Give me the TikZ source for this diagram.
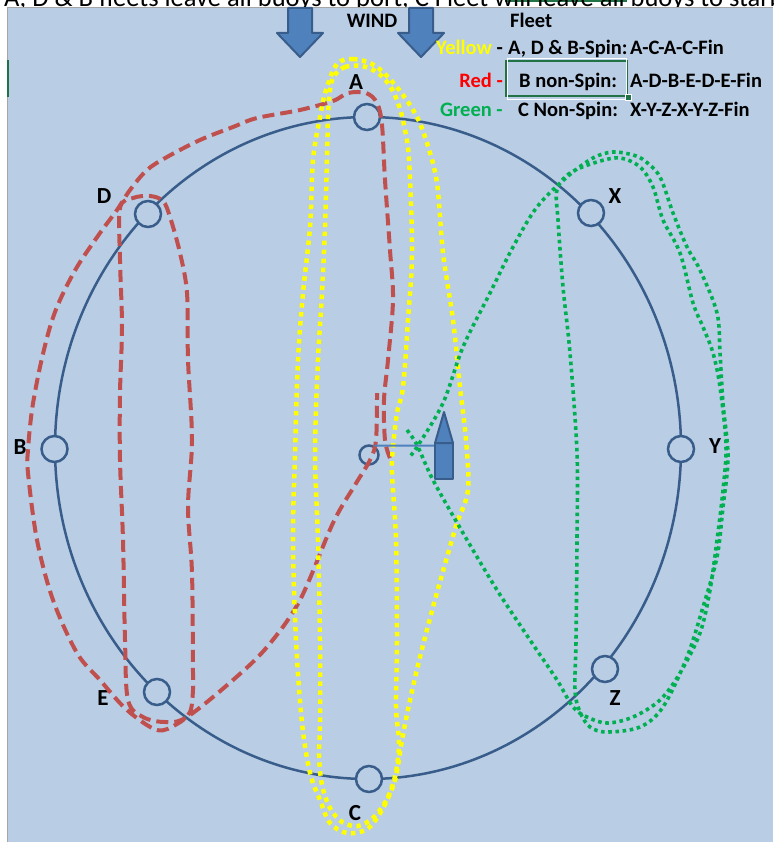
\documentclass[tikz,border=0pt]{standalone}
\usepackage{fontspec}
\setmainfont{Carlito}
\definecolor{sheetblue}{HTML}{B9CDE5}
\definecolor{lineblue}{HTML}{385D8A}
\definecolor{fillblue}{HTML}{4F81BD}
\definecolor{routered}{HTML}{C0504D}
\definecolor{routeyellow}{HTML}{FFFF00}
\definecolor{routegreen}{HTML}{00B050}
\definecolor{selgreen}{HTML}{217346}

\begin{document}
\begin{tikzpicture}[x=1pt,y=-1pt,
  buoy/.style={circle,draw=lineblue,line width=2.5pt,fill=sheetblue,minimum size=26pt,inner sep=0pt},
  buoylabel/.style={font=\fontsize{23}{23}\selectfont\bfseries,inner sep=0pt},
  legendtext/.style={font=\fontsize{20.5}{21}\selectfont\bfseries,inner sep=0pt,anchor=base west},
  redroute/.style={routered,line width=4pt,dash pattern=on 12pt off 6pt},
  yellowroute/.style={routeyellow,line width=4.5pt,dash pattern=on 4.5pt off 4.5pt},
  greenroute/.style={routegreen,line width=3.6pt,dash pattern=on 3.6pt off 3.6pt},
  windarrow/.style={fill=fillblue,draw=lineblue,line width=2pt,line join=round}]
\useasboundingbox (0,0) rectangle (773,842);
\clip (0,0) rectangle (773,842);

% ---------------- sheet ----------------
\fill[white] (0,0) rectangle (773,842);
\draw[selgreen,line width=1.5pt] (505,0.8) -- (627,0.8);
\node[anchor=base west,inner sep=0pt,font=\fontsize{26.5}{26.5}\selectfont] (note) at (4,6.5)
  {A, D \& B fleets leave all buoys to port, C Fleet will leave all buoys to starboard};
\fill[sheetblue] (7,8) rectangle (773,842);
\draw[gray!70,line width=1pt] (7,842) -- (7,8) -- (773,8);
\draw[selgreen,line width=2pt] (7.5,60) -- (7.5,97);

% ---------------- wind arrows ----------------
\foreach \cx in {300,421}
  \filldraw[windarrow] (\cx-12,8) -- (\cx+12,8) -- (\cx+12,33) -- (\cx+23,33) -- (\cx,57)
    -- (\cx-23,33) -- (\cx-12,33) -- cycle;
\node[legendtext,anchor=base] (wind) at (372,28) {WIND};

% ---------------- legend ----------------
\node[legendtext] (fleet) at (510,28) {Fleet};
\node[legendtext,anchor=base east] (yellowkey) at (503,55) {\textcolor{routeyellow}{Yellow} -};
\node[legendtext] (yellowfleet) at (508,55) {A, D \& B-Spin:};
\node[legendtext] (yellowcourse) at (630,55) {A-C-A-C-Fin};
\node[draw=selgreen,line width=2pt,minimum width=121pt,minimum height=35pt,inner sep=0pt] (cell) at (566.5,78.5) {};
\draw[white,line width=0.7pt] ([shift={(2,-2)}]cell.north west) rectangle ([shift={(-2,2)}]cell.south east);
\node[fill=selgreen,draw=white,line width=0.6pt,minimum size=6pt,inner sep=0pt] (handle) at (cell.south east) {};
\node[legendtext,anchor=base east,text=red] (redkey) at (503,88) {Red -};
\node[legendtext] (redfleet) at (519,88) {B non-Spin:};
\node[legendtext] (redcourse) at (630,88) {A-D-B-E-D-E-Fin};
\node[legendtext,anchor=base east,text=routegreen] (greenkey) at (503,117) {Green -};
\node[legendtext] (greenfleet) at (518,117) {C Non-Spin:};
\node[legendtext] (greencourse) at (630,117) {X-Y-Z-X-Y-Z-Fin};

% ---------------- course circle and buoys ----------------
\draw[lineblue,line width=2.5pt] (368,448) ellipse [x radius=313, y radius=331];
\node[buoy] (A) at (367,117) {};
\node[buoy] (B) at (54.5,449) {};
\node[buoy] (C) at (369,779) {};
\node[buoy] (D) at (148,214) {};
\node[buoy] (E) at (157,692) {};
\node[buoy] (X) at (591,213) {};
\node[buoy] (Y) at (681,449) {};
\node[buoy] (Z) at (605,669) {};
\node[buoy,minimum size=19pt] (mid) at (369,455) {};

\node[buoylabel] (lblA) at (356,82) {A};
\node[buoylabel] (lblB) at (20,447) {B};
\node[buoylabel] (lblC) at (355,813) {C};
\node[buoylabel] (lblD) at (104,196) {D};
\node[buoylabel] (lblE) at (103,698) {E};
\node[buoylabel] (lblX) at (615,196) {X};
\node[buoylabel] (lblY) at (715,446) {Y};
\node[buoylabel] (lblZ) at (615,698) {Z};

% ---------------- red fleet: A-D-B-E-D-E-Fin ----------------
\draw[redroute] plot[smooth,tension=0.55] coordinates {
  (390,458) (385,440) (384,400) (388,360) (393,300) (390,250) (385,180) (382,125)
  (377,103) (366,93) (348,93) (333,101) (300,110) (257,118) (233,127) (200,140)
  (167,157) (147,170) (130,190) (117,210) (100,233) (77,267) (60,300) (50,327)
  (40,367) (32,410) (28,450) (28,473) (37,540) (53,600) (77,653) (100,680)
  (127,710) (157,730) (177,724) (190,712) (193,690) (193,673) (192,573) (188,507)
  (192,440) (188,360) (187,293) (180,253) (170,217) (163,201) (150,196) (133,198)
  (120,208) (120,260) (122,327) (120,393) (120,460) (123,540) (125,640) (128,700)
  (143,717) (165,722) (187,717) (233,680) (267,647) (300,600) (333,523) (355,485)
  (370,460) (376,440) (377,393)};

% ---------------- yellow fleet: A-C-A-C-Fin ----------------
\draw[yellowroute] plot[smooth cycle,tension=0.55] coordinates {
  (337,64) (353,59) (372,64) (387,76) (403,95) (417,117) (427,143) (437,183)
  (443,253) (453,320) (460,387) (466,440) (468,490) (457,523) (447,557) (433,607)
  (420,657) (410,700) (402,740) (395,780) (382,810) (367,829) (347,833) (330,823)
  (320,800) (310,773) (302,723) (296,640) (293,540) (295,453) (298,360) (303,293)
  (310,227) (313,160) (320,117) (326,90)};
\draw[yellowroute] plot[smooth cycle,tension=0.55] coordinates {
  (334,76) (345,67) (362,66) (378,73) (390,86) (398,103) (404,125) (409,160)
  (412,253) (408,320) (403,387) (397,413) (393,447) (392,473) (396,540) (397,640)
  (396,707) (399,742) (396,772) (388,797) (374,817) (358,826) (342,822) (330,808)
  (322,785) (319,755) (320,723) (320,640) (318,540) (315,453) (318,360) (322,293)
  (325,227) (327,160) (328,117) (330,90)};

% ---------------- green fleet: X-Y-Z-X-Y-Z-Fin ----------------
\draw[greenroute] plot[smooth,tension=0.55] coordinates {
  (407,430) (417,445) (433,480) (463,533) (497,590) (530,640) (557,680) (573,707)
  (587,717) (607,723) (633,717) (660,700) (680,673) (700,633) (710,590) (717,540)
  (723,490) (726,445) (720,387) (713,353) (703,327) (693,303) (680,253) (663,220)
  (653,187) (640,167) (620,158) (597,162) (570,173) (557,190) (558,220) (563,287)
  (570,353) (577,453) (577,540) (576,640) (575,690) (580,712) (590,727) (607,732)
  (640,727) (663,707) (687,657) (703,607) (717,557) (723,507) (728,457) (723,403)
  (720,353) (717,313) (700,270) (687,247) (673,213) (660,177) (645,161) (633,155)
  (613,152) (593,158) (567,177) (537,207) (513,247) (490,293) (463,347) (443,403)
  (417,447) (410,456)};

% ---------------- committee boat ----------------
\coordinate (boat) at (435,445.5);
\draw[fillblue,line width=2pt] (mid.60) -- (boat);
\filldraw[windarrow] (435,443) rectangle (453,479);
\filldraw[windarrow] (435,443) -- (444,412) -- (453,443) -- cycle;
\end{tikzpicture}
\end{document}
